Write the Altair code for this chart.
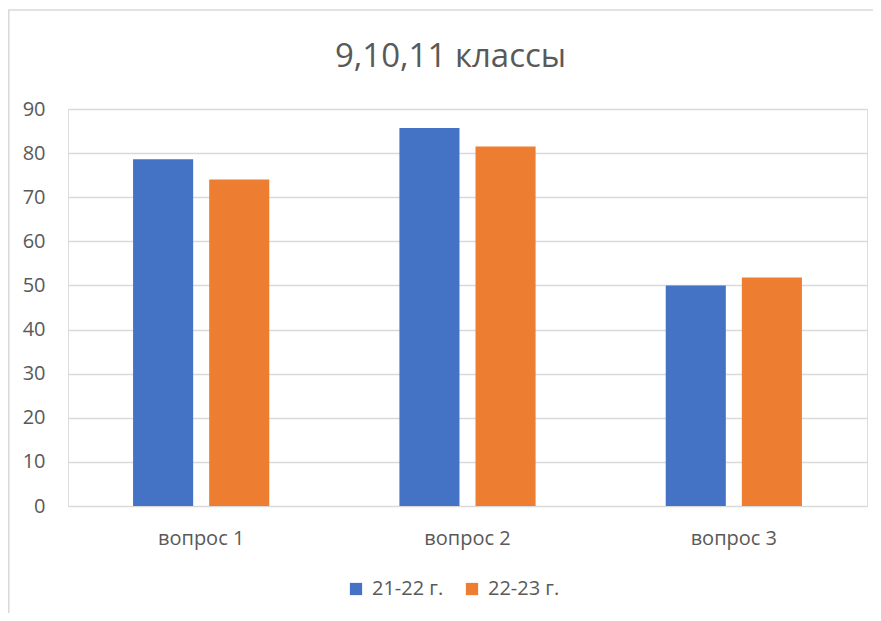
import altair as alt
import pandas as pd

categories = ["вопрос 1", "вопрос 2", "вопрос 3"]
series = ["21-22 г.", "22-23 г."]
values_2122 = [78.6, 85.7, 50.0]
values_2223 = [74.0, 81.5, 51.8]
colors = ["#4472C4", "#ED7D31"]

rows = []
for c, v in zip(categories, values_2122):
    rows.append({"cat": c, "series": series[0], "value": v})
for c, v in zip(categories, values_2223):
    rows.append({"cat": c, "series": series[1], "value": v})
df = pd.DataFrame(rows)

FONT = "Open Sans"
W, H = 799, 397

bars = alt.Chart(df).mark_bar(stroke=None).encode(
    x=alt.X("cat:N", sort=categories, title=None,
            scale=alt.Scale(paddingInner=0, paddingOuter=0),
            axis=alt.Axis(labelAngle=0, domain=False, ticks=False, labelPadding=22,
                          labelFontSize=20, labelFont=FONT, labelColor="#595959")),
    xOffset=alt.XOffset("series:N", sort=series,
                        scale=alt.Scale(paddingInner=0.2105, paddingOuter=0.855)),
    y=alt.Y("value:Q", title=None,
            scale=alt.Scale(domain=[0, 90], nice=False),
            axis=alt.Axis(values=list(range(0, 91, 10)), domain=False, ticks=False,
                          labelPadding=23, labelFontSize=20, labelFont=FONT,
                          labelColor="#595959", gridColor="#D9D9D9", gridWidth=1.5)),
    color=alt.Color("series:N", sort=series,
                    scale=alt.Scale(domain=series, range=colors),
                    legend=alt.Legend(title=None, orient="none", direction="horizontal",
                                      legendX=278, legendY=470,
                                      symbolType="square", symbolSize=150,
                                      symbolStrokeWidth=0,
                                      labelFontSize=20, labelFont=FONT,
                                      labelColor="#595959", columnPadding=18,
                                      labelOffset=6)),
)

frame = alt.Chart(pd.DataFrame({"k": [0]})).mark_rect(
    fill=None, stroke="#D9D9D9", strokeWidth=1.5
).encode(
    x=alt.value(-59.2), x2=alt.value(900), y=alt.value(-99), y2=alt.value(600)
)

chart = alt.layer(frame, bars).properties(
    width=W, height=H,
    title=alt.TitleParams("9,10,11 классы", fontSize=33, font=FONT, color="#595959",
                          fontWeight="normal", anchor="middle", offset=-65, dx=-17),
    autosize=alt.AutoSizeParams(type="none"),
    padding={"left": 60, "top": 101, "right": 6, "bottom": 107},
).configure_view(stroke=None).configure(background="white")

chart.save("out.html", embed_options={"renderer": "svg", "actions": False})
